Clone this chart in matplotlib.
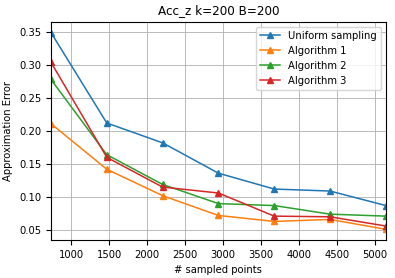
import matplotlib
matplotlib.use("Agg")
import matplotlib.pyplot as plt

x = [735, 1470, 2205, 2940, 3675, 4410, 5145]
uniform = [0.349, 0.212, 0.182, 0.136, 0.112, 0.109, 0.087]
alg1 = [0.211, 0.142, 0.102, 0.072, 0.063, 0.066, 0.051]
alg2 = [0.278, 0.164, 0.119, 0.090, 0.087, 0.074, 0.071]
alg3 = [0.304, 0.160, 0.115, 0.106, 0.071, 0.070, 0.056]
labels = ["Uniform sampling", "Algorithm 1", "Algorithm 2", "Algorithm 3"]

plt.rcParams['font.size'] = 7.2
fig = plt.figure(figsize=(3.95, 2.78), dpi=100)
ax = fig.add_axes([0.129, 0.137, 0.848, 0.784])
for ys, lab in zip([uniform, alg1, alg2, alg3], labels):
    ax.plot(x, ys, marker='^', markersize=4.8, linewidth=1.1, label=lab)
ax.set_xlim(x[0], x[-1])
ax.set_ylim(0.035, 0.365)
ax.grid(True, linewidth=0.6)
ax.set_title("Acc_z k=200 B=200", fontsize=8.64)
ax.set_xlabel("# sampled points")
ax.set_ylabel("Approximation Error")
ax.legend(loc='upper right')
fig.savefig("out.png", dpi=100)
